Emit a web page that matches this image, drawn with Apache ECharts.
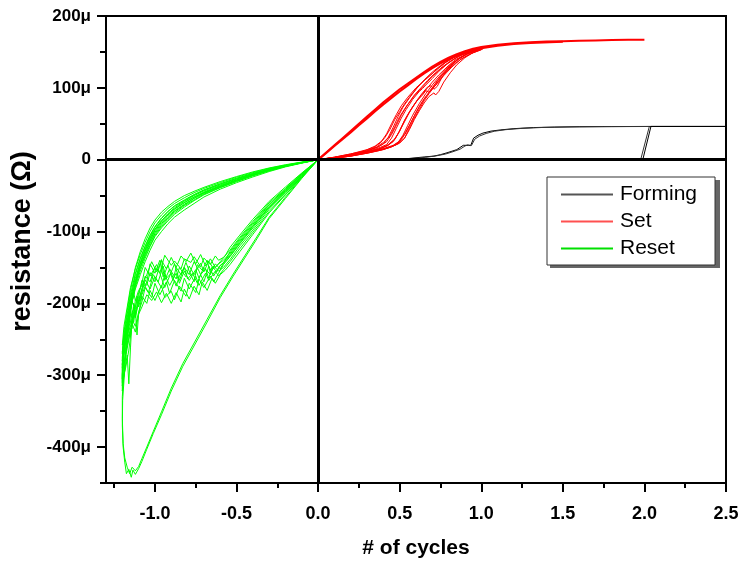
<!DOCTYPE html>
<html>
<head>
<meta charset="utf-8">
<script src="https://cdn.jsdelivr.net/npm/echarts@6/dist/echarts.min.js"></script>
<style>html,body{margin:0;padding:0;background:#fff;}#c{width:743px;height:564px;}</style>
</head>
<body>
<div id="c"></div>
<script>
// ---- tick values ----
const xMajorTicks = [-1, -0.5, 0, 0.5, 1, 1.5, 2, 2.5];
const xMinorTicks = [-1.25, -0.75, -0.25, 0.25, 0.75, 1.25, 1.75, 2.25];
const yMajorTicks = [-400, -300, -200, -100, 0, 100, 200];
const yMinorTicks = [-450, -350, -250, -150, -50, 50, 150];

// ---- Forming (values in micro units) ----
const formingA = [[0,0],[0.3,0],[0.45,0.5],[0.55,1.5],[0.6,2.7],[0.65,3.8],[0.71,5],[0.75,7],[0.79,9.6],[0.85,14],[0.89,20],[0.9,21],[0.92,20],[0.935,19.6],[0.953,30],[0.98,34],[1.01,37],[1.06,39.8],[1.12,41.5],[1.2,43.2],[1.32,44.7],[1.45,45.4],[1.6,45.9],[1.8,46.1],[2.04,46.3],[2.5,46.3],[2.04,46.3],[1.99,0],[0,0]];
const formingB = [[0,0],[0.35,0],[0.5,0.8],[0.6,2],[0.66,3.4],[0.72,5.2],[0.78,7.8],[0.82,10.6],[0.87,14.6],[0.9,19],[0.915,20.6],[0.94,19.8],[0.96,28.5],[0.99,33],[1.03,36.5],[1.08,39.6],[1.15,41.8],[1.25,43.6],[1.38,44.9],[1.55,45.6],[1.75,46],[2.03,46.2],[1.977,0]];

// ---- Set (values in micro units) ----
const setReturnA = [[2.0,167],[1.9,167],[1.8,166.5],[1.7,166],[1.6,165.5],[1.5,165],[1.4,164.5],[1.3,163.5],[1.2,162],[1.1,160],[1.0,157],[0.95,154.5],[0.9,151],[0.85,147],[0.8,142],[0.75,136],[0.7,129.5],[0.65,122],[0.6,114],[0.55,106],[0.5,98],[0.45,89],[0.4,80],[0.35,70],[0.3,60],[0.25,50],[0.2,40],[0.15,30],[0.1,20],[0.05,10],[0,0]];
const setReturnB = [[1.5,164.3],[1.3,162.5],[1.2,161],[1.1,158.5],[1.0,155],[0.95,152.5],[0.9,149],[0.85,145],[0.8,140],[0.75,134],[0.7,127.5],[0.65,120],[0.6,112],[0.55,103.5],[0.5,95],[0.45,86],[0.4,77],[0.35,67.5],[0.3,57.5],[0.25,48],[0.2,38],[0.15,28.5],[0.1,19],[0.05,9.5],[0,0]];
const setCycle1 = [[0,0],[0.1,3],[0.2,7],[0.3,12],[0.36,17],[0.4,22],[0.43,31],[0.46,45],[0.49,60],[0.52,73],[0.56,86],[0.6,98],[0.65,111],[0.7,122],[0.75,131],[0.8,139],[0.86,146],[0.92,151],[1.0,156]];
const setCycle2 = [[0,0],[0.1,2.5],[0.2,6],[0.3,11],[0.38,17],[0.42,21],[0.45,30],[0.48,44],[0.51,58],[0.54,70],[0.58,84],[0.62,95],[0.64,99],[0.66,104],[0.7,113],[0.74,123],[0.79,133],[0.84,141],[0.9,148],[0.96,153],[1.02,156.5]];
const setCycle3 = [[0,0],[0.1,3],[0.2,6.5],[0.3,10],[0.38,15],[0.43,20],[0.47,28],[0.5,40],[0.53,55],[0.57,70],[0.61,84],[0.64,93],[0.67,101],[0.69,103],[0.71,98],[0.73,102],[0.76,115],[0.8,127],[0.85,138],[0.9,146],[0.96,152],[1.02,156]];
const setCycle4 = [[0,0],[0.1,2],[0.2,5],[0.3,9],[0.4,14],[0.45,18],[0.49,24],[0.52,34],[0.55,48],[0.58,62],[0.62,78],[0.66,92],[0.7,104],[0.74,115],[0.78,125],[0.82,134],[0.87,142],[0.93,149],[1.0,155]];
const setCycle5 = [[0,0],[0.1,2.5],[0.2,5.5],[0.3,10],[0.4,15],[0.46,19],[0.5,23],[0.53,30],[0.56,42],[0.59,56],[0.62,68],[0.65,79],[0.68,88],[0.71,93],[0.72,90],[0.74,95],[0.77,108],[0.81,121],[0.85,132],[0.9,142],[0.95,149],[1.0,154]];
const setCycle6 = [[0,0],[0.1,3.5],[0.2,8],[0.3,14],[0.35,19],[0.39,26],[0.42,36],[0.45,50],[0.48,63],[0.51,75],[0.55,87],[0.6,100],[0.64,108],[0.68,116],[0.73,126],[0.78,135],[0.84,143],[0.9,149],[0.97,154]];
const setCycle7 = [[0,0],[0.1,2],[0.2,5],[0.3,9],[0.38,13],[0.44,17],[0.48,21],[0.51,28],[0.54,38],[0.57,52],[0.6,66],[0.63,78],[0.66,88],[0.69,96],[0.73,106],[0.77,117],[0.82,129],[0.87,139],[0.93,147],[1.0,153]];
const setCycle8 = [[0,0],[0.1,3],[0.2,7],[0.3,12],[0.37,18],[0.42,25],[0.45,35],[0.48,48],[0.51,62],[0.55,77],[0.59,90],[0.63,100],[0.67,110],[0.71,119],[0.76,129],[0.81,137],[0.87,145],[0.94,151],[1.0,155]];
const setCycle9 = [[0,0],[0.1,3.5],[0.2,8],[0.28,12],[0.34,17],[0.38,23],[0.41,31],[0.44,42],[0.47,56],[0.5,67],[0.53,78],[0.57,90],[0.61,101],[0.65,110],[0.69,118],[0.74,128],[0.79,137],[0.85,145],[0.91,150],[0.98,155]];
const setCycle10 = [[0,0],[0.1,2.8],[0.2,6.5],[0.3,11],[0.37,15],[0.42,19],[0.46,25],[0.49,36],[0.52,50],[0.55,63],[0.58,74],[0.61,83],[0.64,90],[0.66,96],[0.68,94],[0.7,100],[0.73,110],[0.77,121],[0.81,131],[0.86,140],[0.92,148],[0.99,154]];
const setCycle11 = [[0,0],[0.1,2.2],[0.2,5],[0.3,9.5],[0.39,14],[0.45,18],[0.49,22],[0.53,30],[0.56,44],[0.59,58],[0.62,70],[0.65,82],[0.68,92],[0.71,101],[0.75,113],[0.79,124],[0.84,134],[0.89,142],[0.95,149],[1.01,154]];
const setCycle12 = [[0,0],[0.1,3.2],[0.2,7.2],[0.3,12.5],[0.36,18],[0.4,24],[0.44,33],[0.47,46],[0.5,60],[0.54,74],[0.58,86],[0.62,96],[0.66,106],[0.7,116],[0.75,126],[0.8,135],[0.86,144],[0.93,150],[1.0,155]];
const setCycle13 = [[0,0],[0.1,2.6],[0.2,6],[0.3,10.5],[0.38,15.5],[0.43,21],[0.47,29],[0.5,40],[0.53,53],[0.56,66],[0.6,80],[0.63,89],[0.66,97],[0.7,108],[0.74,118],[0.79,129],[0.84,139],[0.9,146],[0.97,152]];
const setCycle14 = [[0,0],[0.1,2.4],[0.2,5.8],[0.3,10.2],[0.4,15.5],[0.46,20],[0.5,26],[0.53,36],[0.56,48],[0.59,61],[0.62,73],[0.65,84],[0.68,94],[0.72,106],[0.76,118],[0.81,130],[0.86,140],[0.92,148],[0.99,154]];

// ---- Reset (values in micro units) ----
const resetCycle1 = [[0,0],[-0.1,-19],[-0.2,-40],[-0.3,-60],[-0.4,-86],[-0.48,-108],[-0.54,-126],[-0.58,-136],[-0.61,-140],[-0.63,-134],[-0.66,-146],[-0.7,-137],[-0.72,-149],[-0.76,-135],[-0.78,-143],[-0.82,-138],[-0.84,-152],[-0.88,-141],[-0.9,-147],[-0.94,-133],[-0.97,-158],[-0.99,-146],[-1.03,-162],[-1.06,-150],[-1.08,-172],[-1.1,-185],[-1.12,-205],[-1.14,-198],[-1.16,-225],[-1.18,-238],[-1.2,-258],[-1.19,-232],[-1.17,-205],[-1.15,-178],[-1.12,-152],[-1.09,-132],[-1.06,-115],[-1.03,-100],[-1.0,-88],[-0.96,-77],[-0.92,-68],[-0.88,-61],[-0.82,-53],[-0.76,-46],[-0.7,-40],[-0.6,-32],[-0.5,-24.5],[-0.4,-18],[-0.3,-12],[-0.2,-7.5],[-0.1,-3.5],[0,0]];
const resetCycle2 = [[0,0],[-0.1,-22],[-0.2,-45],[-0.3,-67],[-0.4,-95],[-0.48,-117],[-0.54,-135],[-0.58,-146],[-0.61,-158],[-0.64,-170],[-0.66,-162],[-0.7,-178],[-0.73,-166],[-0.75,-185],[-0.79,-172],[-0.81,-190],[-0.85,-176],[-0.88,-195],[-0.9,-183],[-0.94,-192],[-0.96,-175],[-1.0,-196],[-1.03,-182],[-1.05,-200],[-1.08,-190],[-1.1,-215],[-1.11,-244],[-1.12,-210],[-1.14,-228],[-1.16,-250],[-1.18,-275],[-1.2,-290],[-1.2,-275],[-1.19,-250],[-1.17,-220],[-1.15,-192],[-1.12,-165],[-1.09,-145],[-1.06,-127],[-1.03,-112],[-1.0,-99],[-0.96,-87],[-0.92,-77],[-0.88,-69],[-0.82,-60],[-0.76,-52],[-0.7,-45],[-0.6,-36],[-0.5,-28],[-0.4,-20.5],[-0.3,-14],[-0.2,-8.5],[-0.1,-4],[0,0]];
const resetCycle3 = [[0,0],[-0.1,-24],[-0.2,-48],[-0.3,-72],[-0.4,-101],[-0.48,-124],[-0.54,-142],[-0.58,-153],[-0.61,-162],[-0.63,-155],[-0.67,-168],[-0.69,-158],[-0.73,-175],[-0.75,-162],[-0.79,-180],[-0.82,-165],[-0.84,-183],[-0.88,-168],[-0.91,-186],[-0.93,-170],[-0.97,-188],[-1.0,-172],[-1.02,-192],[-1.06,-178],[-1.08,-198],[-1.1,-212],[-1.12,-232],[-1.14,-222],[-1.15,-262],[-1.16,-312],[-1.17,-272],[-1.19,-300],[-1.2,-322],[-1.2,-300],[-1.19,-268],[-1.17,-236],[-1.15,-206],[-1.12,-177],[-1.09,-155],[-1.06,-137],[-1.03,-121],[-1.0,-107],[-0.96,-95],[-0.92,-85],[-0.88,-76],[-0.82,-66],[-0.76,-57],[-0.7,-49],[-0.6,-39],[-0.5,-30.5],[-0.4,-22.5],[-0.3,-15.5],[-0.2,-9.5],[-0.1,-4.5],[0,0]];
const resetCycle4 = [[0,0],[-0.1,-20],[-0.2,-42],[-0.3,-63],[-0.4,-90],[-0.48,-112],[-0.54,-130],[-0.58,-140],[-0.61,-145],[-0.64,-152],[-0.67,-141],[-0.7,-156],[-0.72,-144],[-0.76,-160],[-0.79,-148],[-0.81,-163],[-0.85,-150],[-0.87,-166],[-0.91,-152],[-0.94,-168],[-0.96,-139],[-1.0,-170],[-1.03,-157],[-1.05,-175],[-1.08,-168],[-1.1,-190],[-1.12,-215],[-1.13,-200],[-1.15,-238],[-1.17,-258],[-1.19,-282],[-1.2,-305],[-1.2,-285],[-1.19,-258],[-1.17,-228],[-1.15,-200],[-1.12,-172],[-1.09,-150],[-1.06,-132],[-1.03,-116],[-1.0,-103],[-0.96,-91],[-0.92,-81],[-0.88,-72],[-0.82,-63],[-0.76,-54],[-0.7,-47],[-0.6,-37.5],[-0.5,-29],[-0.4,-21.5],[-0.3,-15],[-0.2,-9],[-0.1,-4.3],[0,0]];
const resetCycle5 = [[0,0],[-0.1,-23],[-0.2,-46],[-0.3,-69],[-0.4,-98],[-0.48,-120],[-0.54,-139],[-0.58,-150],[-0.61,-155],[-0.64,-148],[-0.66,-160],[-0.7,-150],[-0.73,-165],[-0.75,-153],[-0.79,-168],[-0.82,-155],[-0.85,-172],[-0.87,-158],[-0.91,-175],[-0.94,-160],[-0.96,-178],[-1.0,-163],[-1.03,-180],[-1.06,-167],[-1.08,-185],[-1.1,-200],[-1.12,-195],[-1.14,-235],[-1.16,-228],[-1.18,-262],[-1.2,-280],[-1.19,-255],[-1.17,-226],[-1.15,-196],[-1.12,-160],[-1.09,-139],[-1.06,-121],[-1.03,-106],[-1.0,-94],[-0.96,-82],[-0.92,-72],[-0.88,-65],[-0.82,-57],[-0.76,-49],[-0.7,-42.5],[-0.6,-34],[-0.5,-26],[-0.4,-19.5],[-0.3,-13],[-0.2,-8],[-0.1,-3.8],[0,0]];
const resetCycle6 = [[0,0],[-0.1,-21],[-0.2,-43],[-0.3,-65],[-0.4,-92],[-0.48,-114],[-0.54,-132],[-0.58,-143],[-0.61,-150],[-0.64,-162],[-0.67,-148],[-0.7,-170],[-0.73,-155],[-0.76,-142],[-0.79,-160],[-0.82,-150],[-0.85,-168],[-0.88,-145],[-0.91,-162],[-0.94,-178],[-0.97,-158],[-1.0,-150],[-1.03,-170],[-1.06,-162],[-1.08,-180],[-1.1,-195],[-1.12,-218],[-1.14,-210],[-1.16,-242],[-1.18,-270],[-1.19,-300],[-1.2,-315],[-1.2,-298],[-1.19,-272],[-1.18,-245],[-1.16,-215],[-1.13,-180],[-1.1,-150],[-1.07,-130],[-1.04,-113],[-1.01,-100],[-0.97,-88],[-0.93,-78],[-0.89,-70],[-0.83,-61],[-0.77,-53],[-0.7,-46],[-0.6,-37],[-0.5,-28.5],[-0.4,-21],[-0.3,-14.5],[-0.2,-9],[-0.1,-4.2],[0,0]];
const resetCycle7 = [[0,0],[-0.1,-21],[-0.2,-44],[-0.3,-66],[-0.4,-93],[-0.48,-116],[-0.54,-134],[-0.57,-142],[-0.6,-147],[-0.62,-156],[-0.65,-149],[-0.67,-165],[-0.69,-152],[-0.72,-160],[-0.74,-172],[-0.77,-158],[-0.8,-166],[-0.82,-150],[-0.85,-162],[-0.87,-176],[-0.9,-158],[-0.93,-165],[-0.95,-148],[-0.98,-170],[-1.01,-160],[-1.04,-185],[-1.07,-172],[-1.1,-198],[-1.12,-220],[-1.13,-205],[-1.15,-245],[-1.17,-232],[-1.19,-268],[-1.2,-285],[-1.19,-262],[-1.17,-232],[-1.15,-205],[-1.12,-180],[-1.09,-160],[-1.06,-142],[-1.03,-126],[-1.0,-112],[-0.96,-100],[-0.92,-89],[-0.88,-80],[-0.82,-70],[-0.76,-61],[-0.7,-52],[-0.6,-41],[-0.5,-32],[-0.4,-24],[-0.3,-16.5],[-0.2,-10],[-0.1,-4.8],[0,0]];
const resetCycle8 = [[0,0],[-0.1,-20.5],[-0.2,-41],[-0.3,-62],[-0.4,-88],[-0.48,-110],[-0.54,-128],[-0.57,-140],[-0.6,-152],[-0.63,-145],[-0.66,-158],[-0.68,-140],[-0.71,-154],[-0.74,-146],[-0.76,-170],[-0.79,-155],[-0.81,-143],[-0.84,-160],[-0.87,-150],[-0.89,-168],[-0.92,-147],[-0.95,-163],[-0.97,-140],[-1.0,-158],[-1.03,-145],[-1.05,-170],[-1.08,-188],[-1.1,-205],[-1.11,-190],[-1.13,-226],[-1.15,-215],[-1.17,-250],[-1.19,-262],[-1.2,-270],[-1.19,-240],[-1.17,-210],[-1.15,-182],[-1.12,-150],[-1.09,-128],[-1.06,-110],[-1.03,-95],[-1.0,-84],[-0.96,-73],[-0.92,-65],[-0.88,-58],[-0.82,-50],[-0.76,-44],[-0.7,-38.5],[-0.6,-30.5],[-0.5,-23.5],[-0.4,-17],[-0.3,-11.5],[-0.2,-7],[-0.1,-3.3],[0,0]];
const resetCycle9 = [[0,0],[-0.1,-24.5],[-0.2,-49],[-0.3,-74],[-0.4,-104],[-0.48,-128],[-0.54,-146],[-0.57,-154],[-0.6,-160],[-0.63,-172],[-0.65,-165],[-0.68,-182],[-0.71,-170],[-0.73,-188],[-0.76,-176],[-0.79,-194],[-0.82,-180],[-0.84,-198],[-0.87,-185],[-0.9,-200],[-0.93,-186],[-0.96,-199],[-0.99,-184],[-1.02,-196],[-1.05,-188],[-1.08,-205],[-1.1,-215],[-1.12,-240],[-1.14,-228],[-1.16,-265],[-1.18,-290],[-1.2,-310],[-1.2,-290],[-1.19,-262],[-1.17,-230],[-1.15,-200],[-1.12,-170],[-1.09,-150],[-1.06,-134],[-1.03,-119],[-1.0,-105],[-0.96,-93],[-0.92,-83],[-0.88,-74],[-0.82,-64],[-0.76,-56],[-0.7,-48],[-0.6,-38.5],[-0.5,-30],[-0.4,-22],[-0.3,-15],[-0.2,-9.2],[-0.1,-4.4],[0,0]];
const resetCycle10 = [[0,0],[-0.1,-18.5],[-0.2,-38],[-0.3,-58],[-0.4,-83],[-0.48,-105],[-0.54,-122],[-0.57,-134],[-0.6,-142],[-0.63,-150],[-0.66,-138],[-0.69,-148],[-0.72,-132],[-0.75,-145],[-0.78,-130],[-0.81,-142],[-0.84,-134],[-0.87,-150],[-0.9,-136],[-0.93,-152],[-0.96,-140],[-0.99,-156],[-1.02,-142],[-1.05,-160],[-1.08,-175],[-1.1,-182],[-1.12,-196],[-1.13,-185],[-1.15,-212],[-1.17,-236],[-1.19,-255],[-1.2,-268],[-1.19,-245],[-1.17,-215],[-1.15,-188],[-1.12,-158],[-1.09,-137],[-1.06,-120],[-1.03,-105],[-1.0,-93],[-0.96,-81],[-0.92,-72],[-0.88,-64],[-0.82,-56],[-0.76,-48.5],[-0.7,-42],[-0.6,-33.5],[-0.5,-26],[-0.4,-19],[-0.3,-13],[-0.2,-8],[-0.1,-3.8],[0,0]];
const resetFirstA = [[0,0],[-0.1,-26],[-0.2,-54],[-0.3,-82],[-0.38,-112],[-0.45,-137],[-0.52,-162],[-0.6,-192],[-0.68,-226],[-0.75,-255],[-0.83,-288],[-0.9,-322],[-0.96,-355],[-1.01,-381],[-1.05,-403],[-1.08,-420],[-1.1,-430],[-1.12,-438],[-1.135,-432],[-1.145,-442],[-1.16,-431],[-1.175,-437],[-1.185,-421],[-1.195,-400],[-1.2,-370],[-1.198,-335],[-1.19,-308],[-1.18,-275],[-1.17,-248],[-1.15,-210],[-1.12,-175],[-1.09,-150],[-1.06,-130],[-1.03,-114],[-1.0,-101],[-0.96,-89],[-0.92,-79],[-0.88,-71],[-0.82,-62],[-0.76,-53.5],[-0.7,-46],[-0.6,-37],[-0.5,-28.5],[-0.4,-21],[-0.3,-14.5],[-0.2,-9],[-0.1,-4.2],[0,0]];
const resetFirstB = [[0,0],[-0.1,-25],[-0.2,-52],[-0.3,-80],[-0.38,-109],[-0.45,-134],[-0.52,-159],[-0.6,-189],[-0.68,-222],[-0.75,-251],[-0.83,-284],[-0.9,-318],[-0.96,-351],[-1.01,-378],[-1.05,-400],[-1.08,-416],[-1.1,-427],[-1.12,-433],[-1.14,-428],[-1.155,-437],[-1.17,-428],[-1.185,-415],[-1.195,-395],[-1.2,-360],[-1.2,-330],[-1.19,-290],[-1.17,-240],[-1.15,-205],[-1.12,-170],[-1.09,-146],[-1.06,-126],[-1.03,-110],[-1.0,-97],[-0.96,-85],[-0.92,-75],[-0.88,-67],[-0.82,-58],[-0.76,-50],[-0.7,-43.5],[-0.6,-35],[-0.5,-27],[-0.4,-20],[-0.3,-13.5],[-0.2,-8.3],[-0.1,-4],[0,0]];

const FONT = '"Liberation Sans", Arial, Helvetica, sans-serif';

function lineSeries(name, data, color, width) {
  return {
    name: name, type: 'line', data: data, showSymbol: false, symbol: 'none',
    lineStyle: { color: color, width: width }, itemStyle: { color: color },
    silent: true, animation: false, z: 2
  };
}

const series = [];
[resetCycle1, resetCycle2, resetCycle3, resetCycle4, resetCycle5, resetCycle6, resetCycle7, resetCycle8, resetCycle9, resetCycle10, resetFirstA, resetFirstB]
  .forEach(d => series.push(lineSeries('Reset', d, '#00ff00', 1)));
[setCycle1, setCycle2, setCycle3, setCycle4, setCycle5, setCycle6, setCycle7, setCycle8, setCycle9, setCycle10, setCycle11, setCycle12, setCycle13, setCycle14]
  .forEach(d => series.push(lineSeries('Set', d, '#ff0000', 1)));
series.push(lineSeries('Set', setReturnA, '#ff0000', 2));
series.push(lineSeries('Set', setReturnB, '#ff0000', 2));
series.push(lineSeries('Forming', formingA, '#000000', 1));
series.push(lineSeries('Forming', formingB, '#333333', 1));
series.push({
  name: 'zero', type: 'line', data: [], silent: true, z: 10,
  markLine: {
    silent: true, symbol: ['none', 'none'], animation: false,
    label: { show: false },
    lineStyle: { color: '#000', width: 3, type: 'solid' },
    emphasis: { disabled: true },
    data: [{ xAxis: 0 }, { yAxis: 0 }]
  }
});

const chart = echarts.init(document.getElementById('c'), null, { renderer: 'canvas' });
chart.setOption({
  animation: false,
  backgroundColor: '#fff',
  grid: { left: 106, right: 17, top: 16, bottom: 74, show: true, borderColor: '#000', borderWidth: 2, backgroundColor: 'transparent' },
  graphic: [{
    type: 'rect', left: 550, top: 180, z: 3, silent: true,
    shape: { width: 170, height: 88 },
    style: { fill: '#666' }
  }],
  legend: {
    data: [
      { name: 'Forming', itemStyle: { color: '#555' } },
      { name: 'Set', itemStyle: { color: '#ff5050' } },
      { name: 'Reset', itemStyle: { color: '#00e000' } }
    ],
    selectedMode: false, z: 5,
    orient: 'vertical', left: 547, top: 177,
    icon: 'rect', itemWidth: 52, itemHeight: 2, itemGap: 6,
    padding: [7, 18, 6, 14],
    backgroundColor: '#fff', borderColor: '#333', borderWidth: 1,
    textStyle: { fontFamily: FONT, fontSize: 21, lineHeight: 21, color: '#000', padding: [0, 0, 0, 2] }
  },
  xAxis: [
    {
      type: 'value', min: -1.3, max: 2.5, position: 'bottom',
      name: '# of cycles', nameLocation: 'middle', nameGap: 55,
      nameTextStyle: { fontFamily: FONT, fontSize: 21, fontWeight: 'bold', color: '#000' },
      axisLine: { show: true, onZero: false, lineStyle: { color: '#000', width: 2 } },
      axisTick: { show: true, customValues: xMajorTicks, length: 9, inside: false, lineStyle: { color: '#000', width: 2 } },
      axisLabel: { customValues: xMajorTicks, margin: 22, formatter: v => Number(v).toFixed(1),
        fontFamily: FONT, fontSize: 18, fontWeight: 'bold', color: '#000' },
      splitLine: { show: false }
    },
    {
      type: 'value', min: -1.3, max: 2.5, position: 'bottom',
      axisLine: { show: false, onZero: false },
      axisTick: { show: true, customValues: xMinorTicks, length: 5, lineStyle: { color: '#000', width: 2 } },
      axisLabel: { show: false },
      splitLine: { show: false }
    }
  ],
  yAxis: [
    {
      type: 'value', min: -450, max: 200, position: 'left',
      name: 'resistance (Ω)', nameLocation: 'middle', nameGap: 70,
      nameTextStyle: { fontFamily: FONT, fontSize: 27, fontWeight: 'bold', color: '#000', padding: [0, 0, 0, 16] },
      axisLine: { show: true, onZero: false, lineStyle: { color: '#000', width: 2 } },
      axisTick: { show: true, customValues: yMajorTicks, length: 9, lineStyle: { color: '#000', width: 2 } },
      axisLabel: { customValues: yMajorTicks, margin: 15, formatter: v => (Number(v) === 0 ? '0' : v + 'μ'),
        fontFamily: FONT, fontSize: 17, fontWeight: 'bold', color: '#000' },
      splitLine: { show: false }
    },
    {
      type: 'value', min: -450, max: 200, position: 'left',
      axisLine: { show: false, onZero: false },
      axisTick: { show: true, customValues: yMinorTicks, length: 6, lineStyle: { color: '#000', width: 2 } },
      axisLabel: { show: false },
      splitLine: { show: false }
    }
  ],
  series: series
});
</script>
</body>
</html>
